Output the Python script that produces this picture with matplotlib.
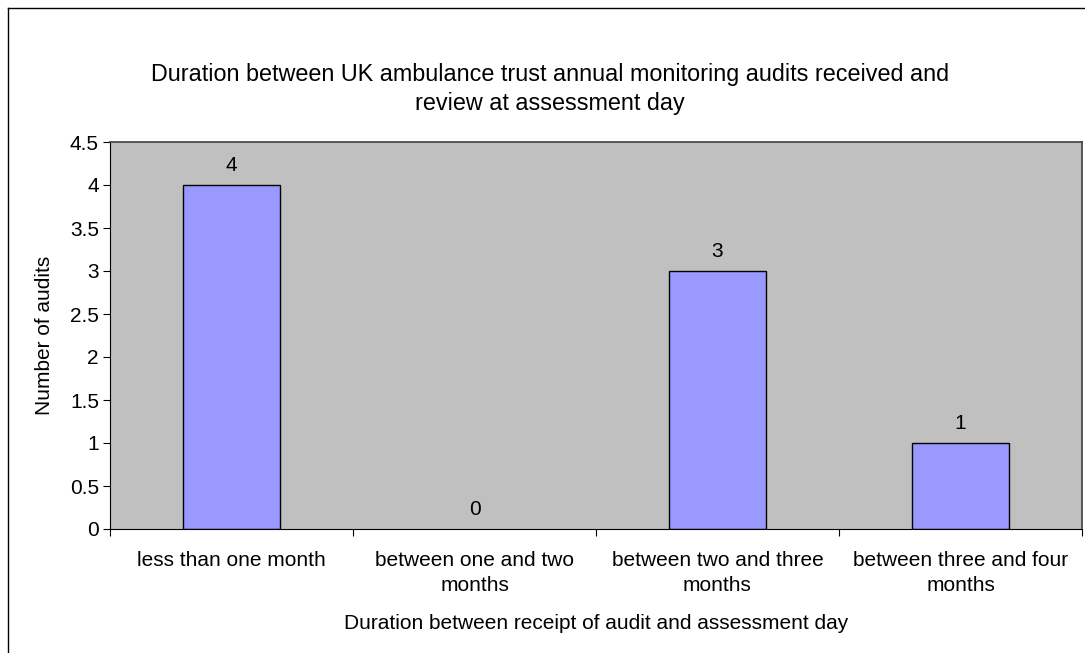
import matplotlib.pyplot as plt
from matplotlib.lines import Line2D

categories = ["less than one month", "between one and two\nmonths",
              "between two and three\nmonths", "between three and four\nmonths"]
audits = [4, 0, 3, 1]

plt.rcParams["font.family"] = ["Liberation Sans", "DejaVu Sans"]

fig = plt.figure(figsize=(10.85, 6.53), dpi=100)
ax = fig.add_axes([110 / 1085, 1 - 529 / 653, 972 / 1085, 387 / 653])
ax.set_facecolor("#c0c0c0")

xs = range(len(categories))
ax.bar(xs, audits, width=0.4, color="#9999ff", edgecolor="black",
       linewidth=[1 if v else 0 for v in audits])
for x, v in zip(xs, audits):
    ax.text(x, v + 0.12, str(v), ha="center", va="bottom", fontsize=15)

ax.set_xlim(-0.5, 3.5)
ax.set_ylim(0, 4.5)
ax.set_yticks([0, 0.5, 1, 1.5, 2, 2.5, 3, 3.5, 4, 4.5])
ax.set_yticklabels(["0", "0.5", "1", "1.5", "2", "2.5", "3", "3.5", "4", "4.5"], fontsize=15)
ax.set_xticks([-0.5, 0.5, 1.5, 2.5, 3.5])
ax.set_xticklabels([])
ax.set_xticks(list(xs), minor=True)
ax.set_xticklabels(categories, minor=True, fontsize=15, linespacing=1.36)
ax.tick_params(axis="x", which="minor", length=0, pad=16)
ax.tick_params(axis="x", which="major", length=5, direction="out")
ax.tick_params(axis="y", length=5, direction="out", pad=3)

for s in ["left", "bottom"]:
    ax.spines[s].set_color("black")
for s in ["top", "right"]:
    ax.spines[s].set_color("#404040")
    ax.spines[s].set_linewidth(1.2)

ax.set_ylabel("Number of audits", fontsize=15, labelpad=11)
ax.set_xlabel("Duration between receipt of audit and assessment day", fontsize=15, labelpad=14)

fig.text(550 / 1085, 1 - 89 / 653, "Duration between UK ambulance trust annual monitoring audits received and\nreview at assessment day",
         ha="center", va="center", fontsize=16.8, linespacing=1.32)

# outer chart frame (only left and top edges visible)
fig.add_artist(Line2D([8 / 1085, 8 / 1085], [0, 1 - 8 / 653], color="black", linewidth=1))
fig.add_artist(Line2D([8 / 1085, 1], [1 - 8 / 653, 1 - 8 / 653], color="black", linewidth=1))

fig.savefig("out.png", dpi=100)
